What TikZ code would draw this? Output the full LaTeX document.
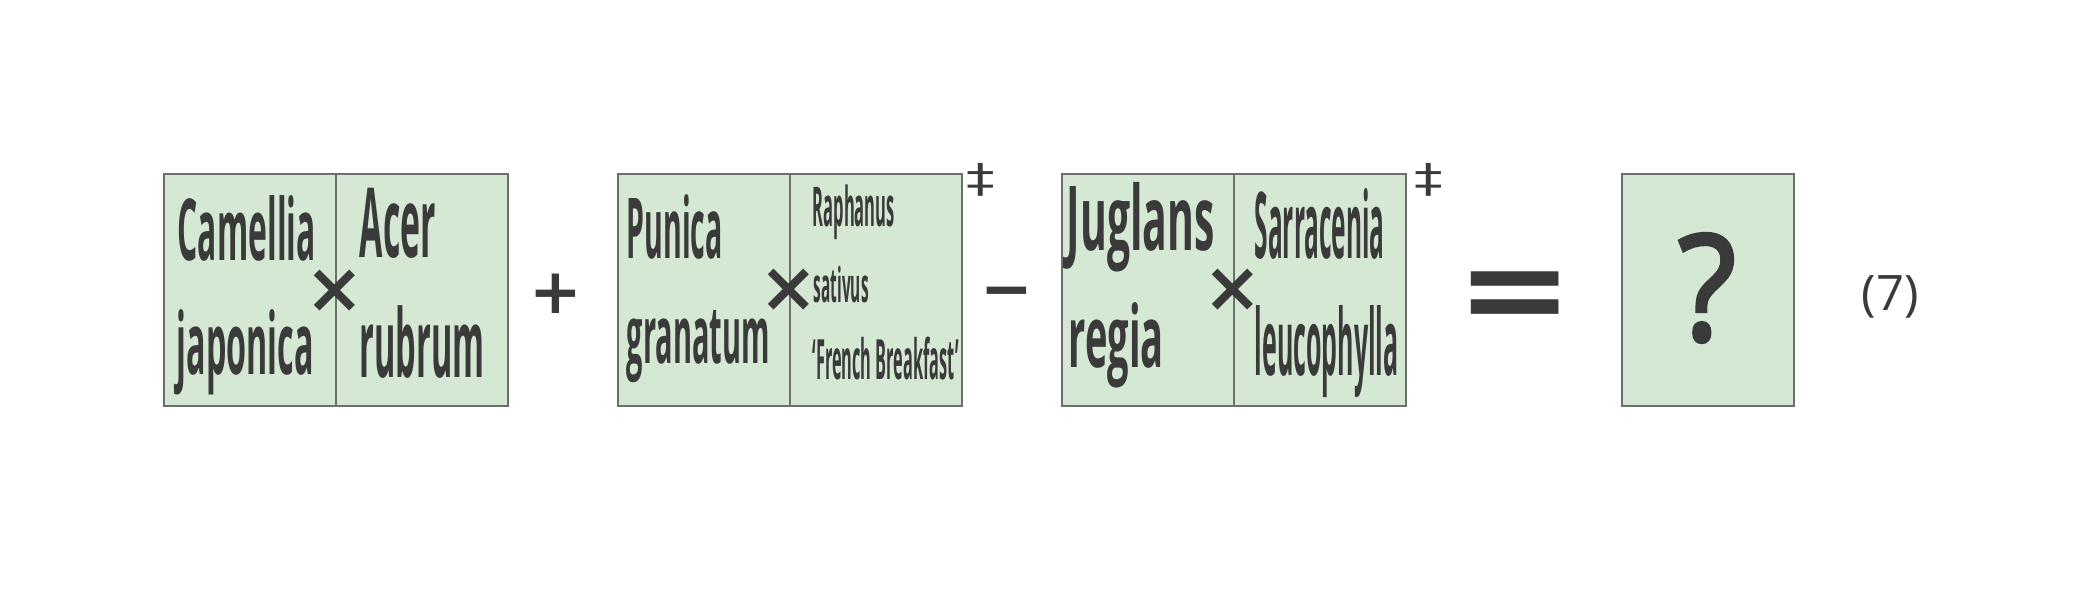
\documentclass[tikz,border=0pt]{standalone}
\usepackage{fontspec}
\setmainfont{Open Sans}
\newfontfamily\symfont{DejaVu Sans}
\newfontfamily\qfont[FakeBold=2.5]{Open Sans}
\definecolor{boxfill}{HTML}{D5E8D4}
\definecolor{boxline}{HTML}{6E6E6E}
\definecolor{inkc}{HTML}{3A3A3A}
\newlength\pxu
\setlength\pxu{0.01cm}
% #1 width in px, #2 font size in pt, #3 text
\newcommand\wfit[3]{{\bfseries\fontsize{#2pt}{#2pt}\selectfont\resizebox{#1\pxu}{\height}{#3}}}
\tikzset{
  half/.style={draw=boxline, fill=boxfill, line width=0.45pt, inner sep=0pt,
    minimum width=172\pxu, minimum height=232\pxu, anchor=north west},
  word/.style={inner sep=0pt, anchor=base west, text=inkc},
  op/.style={inner sep=0pt, text=inkc},
}
\begin{document}
\begin{tikzpicture}[x=0.01cm, y=-0.01cm]
\fill[white] (0,0) rectangle (2100,600);
\useasboundingbox (0,0) rectangle (2100,600);

% boxes
\node[half] (b1a) at (163,173) {};
\node[half] (b1b) at (335,173) {};
\node[half] (b2a) at (617,173) {};
\node[half] (b2b) at (789,173) {};
\node[half] (b3a) at (1061,173) {};
\node[half] (b3b) at (1233,173) {};
\node[half] (b4)  at (1621,173) {};

% words
\node[word] (w1) at (177,260) {\wfit{138}{24.3}{Camellia}};
\node[word] (w2) at (176,374) {\wfit{137}{24.3}{japonica}};
\node[word] (w3) at (359,257) {\wfit{76}{27.5}{Acer}};
\node[word] (w4) at (359,377) {\wfit{125}{26.9}{rubrum}};
\node[word] (w5) at (626,258) {\wfit{96}{23.9}{Punica}};
\node[word] (w6) at (626,363) {\wfit{143}{22.8}{granatum}};
\node[word] (w7) at (812,226) {\wfit{82}{15.6}{Raphanus}};
\node[word] (w8) at (813,302) {\wfit{55}{13.6}{sativus}};
\node[word] (w9) at (812,379) {\wfit{146}{15.8}{‘French Breakfast’}};
\node[word] (w10) at (1066,250) {\wfit{148}{25.5}{Juglans}};
\node[word] (w11) at (1068,367) {\wfit{95}{24.3}{regia}};
\node[word] (w12) at (1254,258) {\wfit{130}{26.2}{Sarracenia}};
\node[word] (w13) at (1254,375) {\wfit{144}{26.2}{leucophylla}};

% crosses
\node[op, font=\symfont\bfseries\fontsize{19.9pt}{20pt}\selectfont] (x1) at (335,291) {×};
\node[op, font=\symfont\bfseries\fontsize{19.9pt}{20pt}\selectfont] (x2) at (789,290) {×};
\node[op, font=\symfont\bfseries\fontsize{19.9pt}{20pt}\selectfont] (x3) at (1233,290) {×};

% operators
\node[op, font=\symfont\bfseries\fontsize{17.9pt}{18pt}\selectfont] (plus) at (555.5,294) {+};
\node[op, font=\symfont\bfseries\fontsize{17.9pt}{18pt}\selectfont] (minus) at (1007,298.5) {−};
\node[op, font=\symfont\bfseries\fontsize{39.8pt}{40pt}\selectfont] (eq) at (1515.5,302) {\scalebox{1}[0.9]{=}};
\node[op, font=\symfont\fontsize{10.8pt}{11pt}\selectfont] (dg1) at (981,180) {\scalebox{1.5}[1.05]{‡}};
\node[op, font=\symfont\fontsize{10.8pt}{11pt}\selectfont] (dg2) at (1429,180) {\scalebox{1.5}[1.05]{‡}};

% result
\node[op, font=\qfont\fontsize{42.7pt}{43pt}\selectfont] (q) at (1707,288) {\scalebox{0.9}[0.98]{?}};
\node[op, anchor=base, font=\fontsize{13.9pt}{14pt}\selectfont] (num) at (1890,310) {(7)};
\end{tikzpicture}
\end{document}
